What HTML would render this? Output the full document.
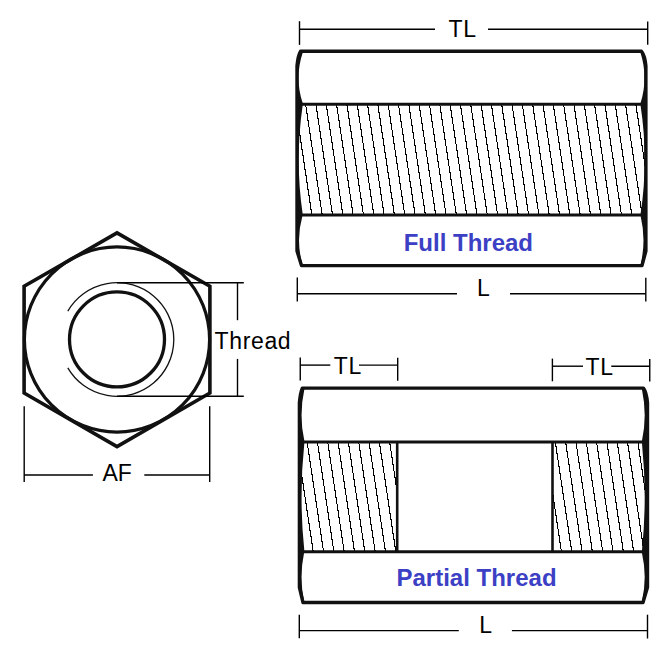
<!DOCTYPE html>
<html><head><meta charset="utf-8"><style>
html,body{margin:0;padding:0;background:#fff;width:670px;height:670px;overflow:hidden}
svg{display:block}
text{font-family:"Liberation Sans",sans-serif}
</style></head><body>
<svg width="670" height="670" viewBox="0 0 670 670">
<rect width="670" height="670" fill="#fff"/>
<clipPath id="a0"><rect x="296" y="104.3" width="351" height="110.8"/></clipPath>
<path clip-path="url(#a0)" d="M274.64 104.3L291.26 215.1M284.96 104.3L301.58 215.1M295.28 104.3L311.9 215.1M305.6 104.3L322.22 215.1M315.92 104.3L332.54 215.1M326.24 104.3L342.86 215.1M336.56 104.3L353.18 215.1M346.88 104.3L363.5 215.1M357.2 104.3L373.82 215.1M367.52 104.3L384.14 215.1M377.84 104.3L394.46 215.1M388.16 104.3L404.78 215.1M398.48 104.3L415.1 215.1M408.8 104.3L425.42 215.1M419.12 104.3L435.74 215.1M429.44 104.3L446.06 215.1M439.76 104.3L456.38 215.1M450.08 104.3L466.7 215.1M460.4 104.3L477.02 215.1M470.72 104.3L487.34 215.1M481.04 104.3L497.66 215.1M491.36 104.3L507.98 215.1M501.68 104.3L518.3 215.1M512 104.3L528.62 215.1M522.32 104.3L538.94 215.1M532.64 104.3L549.26 215.1M542.96 104.3L559.58 215.1M553.28 104.3L569.9 215.1M563.6 104.3L580.22 215.1M573.92 104.3L590.54 215.1M584.24 104.3L600.86 215.1M594.56 104.3L611.18 215.1M604.88 104.3L621.5 215.1M615.2 104.3L631.82 215.1M625.52 104.3L642.14 215.1M635.84 104.3L652.46 215.1M646.16 104.3L662.78 215.1" stroke="#000" stroke-width="1.1" fill="none" shape-rendering="crispEdges"/>
<clipPath id="ao"><path d="M300.5 51.3H641.5Q645 55.71 645.9 66V251L642 265.6H301.5L297 251V66Q297.9 55.71 300.5 51.3Z"/></clipPath>
<line x1="297" y1="104.3" x2="645.9" y2="104.3" stroke="#111" stroke-width="3.0"/>
<line x1="297" y1="215.1" x2="645.9" y2="215.1" stroke="#111" stroke-width="3.0"/>
<path clip-path="url(#ao)" d="M294 48.3L302.6 48.3L302.6 53Q294.4 77.9 302.6 102.8L302.6 105.8Q294.8 159.7 302.6 213.6L302.3 216.6Q295.7 240.25 302.3 263.9L302.3 268.6L294 268.6Z" fill="#111"/>
<path clip-path="url(#ao)" d="M648.9 48.3L640.6 48.3L640.6 53Q648.4 77.9 640.6 102.8L640.6 105.8Q648.8 159.7 640.6 213.6L640.7 216.6Q646.3 240.25 640.7 263.9L640.7 268.6L648.9 268.6Z" fill="#111"/>
<path d="M300.5 51.3H641.5Q645 55.71 645.9 66V251L642 265.6H301.5L297 251V66Q297.9 55.71 300.5 51.3Z" fill="none" stroke="#111" stroke-width="3.4" stroke-linejoin="round"/>
<clipPath id="b0"><rect x="298" y="442" width="99.2" height="109.7"/></clipPath>
<path clip-path="url(#b0)" d="M276.14 442L292.6 551.7M286.46 442L302.92 551.7M296.78 442L313.24 551.7M307.1 442L323.56 551.7M317.42 442L333.88 551.7M327.74 442L344.19 551.7M338.06 442L354.51 551.7M348.38 442L364.83 551.7M358.7 442L375.16 551.7M369.02 442L385.48 551.7M379.34 442L395.8 551.7M389.66 442L406.12 551.7" stroke="#000" stroke-width="1.1" fill="none" shape-rendering="crispEdges"/>
<clipPath id="b1"><rect x="552.5" y="442" width="94.5" height="109.7"/></clipPath>
<path clip-path="url(#b1)" d="M524.34 442L540.79 551.7M534.66 442L551.12 551.7M544.98 442L561.43 551.7M555.3 442L571.75 551.7M565.62 442L582.08 551.7M575.94 442L592.39 551.7M586.26 442L602.72 551.7M596.58 442L613.03 551.7M606.9 442L623.36 551.7M617.22 442L633.67 551.7M627.54 442L644 551.7M637.86 442L654.31 551.7M648.18 442L664.63 551.7" stroke="#000" stroke-width="1.1" fill="none" shape-rendering="crispEdges"/>
<clipPath id="bo"><path d="M302.3 388.1H643.4Q646.6 392.57 647.5 403V587.3L643 602.5H303L299.4 587.3V403Q300.3 392.57 302.3 388.1Z"/></clipPath>
<line x1="299.4" y1="442" x2="647.5" y2="442" stroke="#111" stroke-width="3.0"/>
<line x1="299.4" y1="551.7" x2="647.5" y2="551.7" stroke="#111" stroke-width="3.0"/>
<line x1="397.2" y1="442" x2="397.2" y2="551.7" stroke="#111" stroke-width="2.6"/>
<line x1="552.5" y1="442" x2="552.5" y2="551.7" stroke="#111" stroke-width="2.6"/>
<path clip-path="url(#bo)" d="M296.4 385.1L304.3 385.1L304.3 389.8Q298.7 415.15 304.3 440.5L304.3 443.5Q298.7 496.85 304.3 550.2L304 553.2Q299 577 304 600.8L304 605.5L296.4 605.5Z" fill="#111"/>
<path clip-path="url(#bo)" d="M650.5 385.1L642 385.1L642 389.8Q647.4 415.15 642 440.5L642 443.5Q647.4 496.85 642 550.2L642 553.2Q647.4 577 642 600.8L642 605.5L650.5 605.5Z" fill="#111"/>
<path d="M302.3 388.1H643.4Q646.6 392.57 647.5 403V587.3L643 602.5H303L299.4 587.3V403Q300.3 392.57 302.3 388.1Z" fill="none" stroke="#111" stroke-width="3.4" stroke-linejoin="round"/>
<line x1="299.5" y1="21.2" x2="299.5" y2="44.9" stroke="#000" stroke-width="1.4"/>
<line x1="647.7" y1="21.4" x2="647.7" y2="44.8" stroke="#000" stroke-width="1.4"/>
<line x1="299.5" y1="29.2" x2="435" y2="29.2" stroke="#000" stroke-width="1.4"/>
<line x1="488" y1="29.2" x2="647.7" y2="29.2" stroke="#000" stroke-width="1.4"/>
<text x="448.6" y="36.9" font-size="23" letter-spacing="0.6"  fill="#000">TL</text>
<line x1="297.3" y1="277.6" x2="297.3" y2="301.4" stroke="#000" stroke-width="1.4"/>
<line x1="645.8" y1="277.7" x2="645.8" y2="301.4" stroke="#000" stroke-width="1.4"/>
<line x1="297.3" y1="293.7" x2="457" y2="293.7" stroke="#000" stroke-width="1.4"/>
<line x1="510" y1="293.7" x2="645.8" y2="293.7" stroke="#000" stroke-width="1.4"/>
<text x="477" y="295.8" font-size="23" letter-spacing="0"  fill="#000">L</text>
<text x="403.7" y="250.6" font-size="24" letter-spacing="0" font-weight="bold" fill="#3c40c4">Full Thread</text>
<line x1="300.25" y1="357.6" x2="300.25" y2="380.6" stroke="#000" stroke-width="1.4"/>
<line x1="397.7" y1="357.8" x2="397.7" y2="380.8" stroke="#000" stroke-width="1.4"/>
<line x1="300.25" y1="365.1" x2="330.3" y2="365.1" stroke="#000" stroke-width="1.4"/>
<line x1="359" y1="365.1" x2="397.7" y2="365.1" stroke="#000" stroke-width="1.4"/>
<text x="333.8" y="373.7" font-size="23" letter-spacing="0.6"  fill="#000">TL</text>
<line x1="552.4" y1="358.6" x2="552.4" y2="381.3" stroke="#000" stroke-width="1.4"/>
<line x1="649.75" y1="359" x2="649.75" y2="381.6" stroke="#000" stroke-width="1.4"/>
<line x1="552.4" y1="366.2" x2="583" y2="366.2" stroke="#000" stroke-width="1.4"/>
<line x1="611.3" y1="366.2" x2="649.75" y2="366.2" stroke="#000" stroke-width="1.4"/>
<text x="585.6" y="374.6" font-size="23" letter-spacing="0.6"  fill="#000">TL</text>
<line x1="299.3" y1="614.7" x2="299.3" y2="638.3" stroke="#000" stroke-width="1.4"/>
<line x1="647.5" y1="614.7" x2="647.5" y2="638.5" stroke="#000" stroke-width="1.4"/>
<line x1="299.3" y1="630.6" x2="458.8" y2="630.6" stroke="#000" stroke-width="1.4"/>
<line x1="511.9" y1="630.6" x2="647.5" y2="630.6" stroke="#000" stroke-width="1.4"/>
<text x="479.3" y="633" font-size="23" letter-spacing="0"  fill="#000">L</text>
<text x="396.5" y="585.6" font-size="24" letter-spacing="0" font-weight="bold" fill="#3c40c4">Partial Thread</text>
<polygon points="117,232.9 209.9,286.3 209.9,393 117,446.6 24.1,393 24.1,286.3" fill="none" stroke="#111" stroke-width="3.6" stroke-linejoin="miter"/>
<circle cx="117" cy="339.5" r="92.6" fill="none" stroke="#111" stroke-width="3.2"/>
<circle cx="117" cy="339.4" r="47.5" fill="none" stroke="#111" stroke-width="3.3"/>
<path d="M67.81 311.1A56.8 56.8 0 1 1 67.81 367.9" fill="none" stroke="#111" stroke-width="1.3"/>
<line x1="117" y1="282.7" x2="243.8" y2="282.7" stroke="#000" stroke-width="1.4"/>
<line x1="117" y1="396.3" x2="243.8" y2="396.3" stroke="#000" stroke-width="1.4"/>
<line x1="237.5" y1="282.7" x2="237.5" y2="320.2" stroke="#000" stroke-width="1.4"/>
<line x1="237.5" y1="358.9" x2="237.5" y2="396.3" stroke="#000" stroke-width="1.4"/>
<text x="214.5" y="349" font-size="23" letter-spacing="0.65"  fill="#000">Thread</text>
<line x1="24.2" y1="406.3" x2="24.2" y2="482" stroke="#000" stroke-width="1.4"/>
<line x1="209.7" y1="406.3" x2="209.7" y2="482" stroke="#000" stroke-width="1.4"/>
<line x1="24.2" y1="475" x2="92.9" y2="475" stroke="#000" stroke-width="1.4"/>
<line x1="144.3" y1="475" x2="209.7" y2="475" stroke="#000" stroke-width="1.4"/>
<text x="102.5" y="480.5" font-size="23" letter-spacing="0"  fill="#000">AF</text>
</svg>
</body></html>
